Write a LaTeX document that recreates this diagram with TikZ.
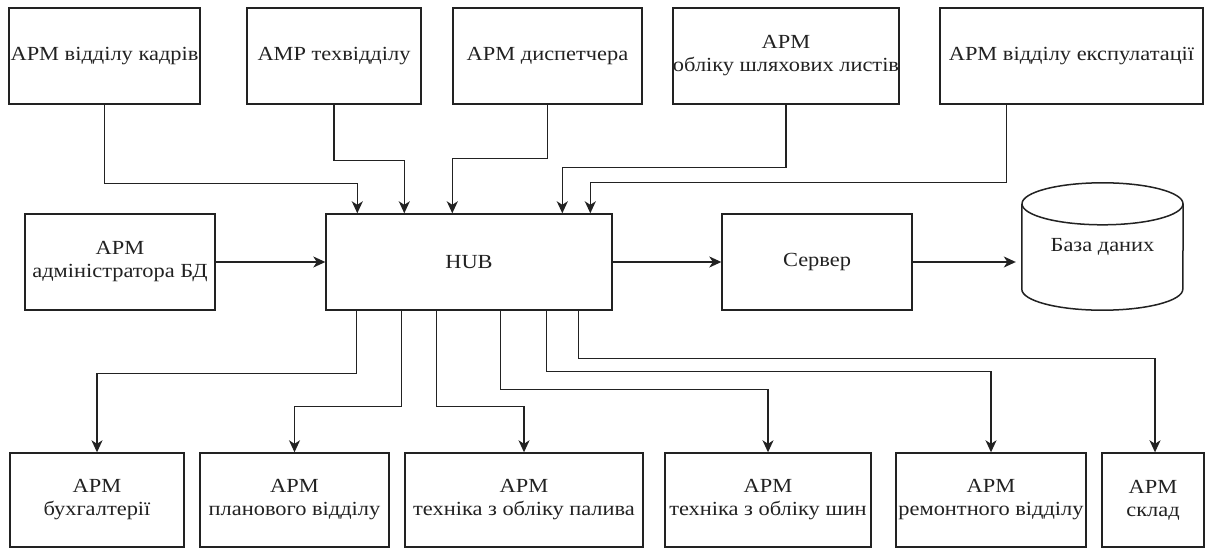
\documentclass[tikz,border=0pt]{standalone}
\usepackage{fontspec}
\setmainfont{Liberation Serif}[FakeStretch=1.12]
\usetikzlibrary{arrows.meta,calc}
\definecolor{ink}{HTML}{222222}
\begin{document}
\begin{tikzpicture}[x=1pt,y=-1pt,
  box/.style={draw=ink, line width=1.4pt, inner sep=0pt, align=center,
    font=\fontsize{20}{23}\selectfont, text=ink},
  conn/.style={draw=ink, line width=1.35pt,
    -{Stealth[length=12pt,width=11pt,inset=3.5pt]}},
  outline/.style={draw=ink, line width=1.5pt}]

\fill[white] (0,0) rectangle (1206,548);
\useasboundingbox (0,0) rectangle (1206,548);

% top row of workstations
\node[box, minimum width=191pt, minimum height=96pt] (b1) at (104.5,56) {АРМ відділу кадрів};
\node[box, minimum width=174pt, minimum height=96pt] (b2) at (334,56) {АМР техвідділу};
\node[box, minimum width=189pt, minimum height=96pt] (b3) at (547.5,56) {АРМ диспетчера};
\node[box, minimum width=222pt, minimum height=96pt] (b4) at (786,56) {АРМ\\обліку шляхових листів};
\node[box, minimum width=263pt, minimum height=96pt] (b5) at (1071.5,56) {АРМ відділу експулатації};

% middle row
\node[box, minimum width=190pt, minimum height=96pt] (adm) at (120,262) {АРМ\\адміністратора БД};
\node[box, minimum width=286pt, minimum height=96pt] (hub) at (469,262) {HUB};
\node[box, minimum width=190pt, minimum height=96pt] (srv) at (817,262) {Сервер};

% database cylinder
\node[inner sep=0pt, minimum width=161pt, minimum height=127pt,
      font=\fontsize{20}{23}\selectfont, text=ink] (db) at (1102.5,246.5) {База даних};
\draw[outline] ($(db.north west)+(0,21)$) -- ($(db.south west)+(0,-21)$)
  arc[start angle=180, end angle=360, x radius=80.5pt, y radius=21pt]
  -- ($(db.north east)+(0,21)$);
\draw[outline] ($(db.north)+(0,21)$) ellipse [x radius=80.5pt, y radius=21pt];

% bottom row of workstations
\node[box, minimum width=174pt, minimum height=94pt] (c1) at (97,500) {АРМ\\бухгалтерії};
\node[box, minimum width=189pt, minimum height=94pt] (c2) at (294.5,500) {АРМ\\планового відділу};
\node[box, minimum width=238pt, minimum height=94pt] (c3) at (524,500) {АРМ\\техніка з обліку палива};
\node[box, minimum width=206pt, minimum height=94pt] (c4) at (768,500) {АРМ\\техніка з обліку шин};
\node[box, minimum width=190pt, minimum height=94pt] (c5) at (991,500) {АРМ\\ремонтного відділу};
\node[box, minimum width=102pt, minimum height=94pt] (c6) at (1153,500) {АРМ\\склад};

% links into the hub from above
\draw[conn] (b1.south) -- ++(0,79) -| ([xshift=32pt]hub.north west);
\draw[conn] (b2.south) -- ++(0,56) -| ([xshift=79pt]hub.north west);
\draw[conn] (b3.south) -- ++(0,54) -| ([xshift=127pt]hub.north west);
\draw[conn] (b4.south) -- ++(0,63) -| ([xshift=237pt]hub.north west);
\draw[conn] ([xshift=67pt]b5.south west) -- ++(0,78) -| ([xshift=265pt]hub.north west);

% middle row links
\draw[conn] (adm.east) -- (hub.west);
\draw[conn] (hub.east) -- (srv.west);
\draw[conn, shorten >=6pt] (srv.east) -- (srv.east -| db.west);

% links from the hub down to the bottom row
\draw[conn] ([xshift=31pt]hub.south west) -- ++(0,63) -| (c1.north);
\draw[conn] ([xshift=76pt]hub.south west) -- ++(0,96) -| (c2.north);
\draw[conn] ([xshift=111pt]hub.south west) -- ++(0,96) -| (c3.north);
\draw[conn] ([xshift=175pt]hub.south west) -- ++(0,79) -| (c4.north);
\draw[conn] ([xshift=221pt]hub.south west) -- ++(0,61) -| (c5.north);
\draw[conn] ([xshift=253pt]hub.south west) -- ++(0,48) -| ([xshift=2pt]c6.north);

\end{tikzpicture}
\end{document}
